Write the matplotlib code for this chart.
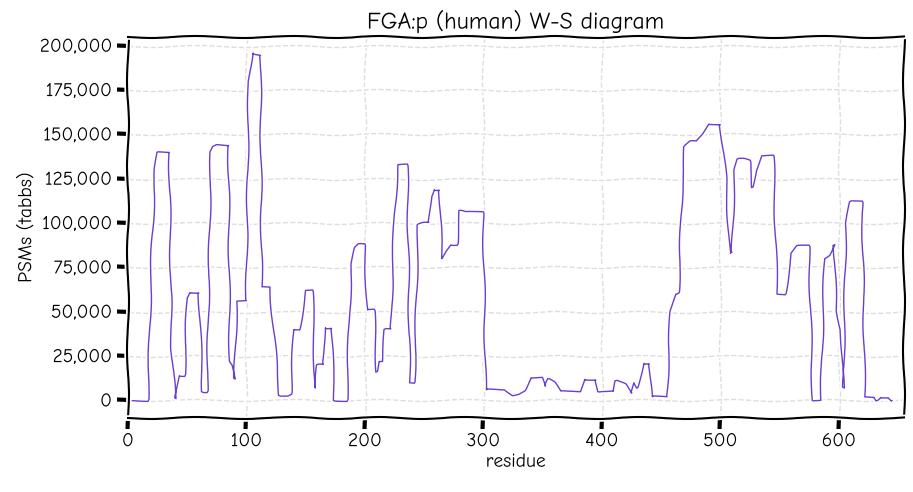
import matplotlib
matplotlib.use("Agg")
import matplotlib.pyplot as plt
from matplotlib.ticker import FuncFormatter

residue = [0,17,20,23,25,35,37,40,43,48,50,52,60,63,67,70,72,75,85,86,88,90,92,100,102,105,112,113,120,123,128,135,138,140,145,150,156,158,160,165,166,172,174,185,187,189,192,195,200,202,208,210,212,215,217,222,225,228,236,238,242,245,250,254,256,258,263,265,268,272,278,280,285,300,302,318,320,325,330,335,340,350,352,355,360,365,382,385,395,397,410,412,420,425,427,430,435,440,442,455,458,462,465,468,470,475,480,485,490,500,505,508,510,512,515,520,525,527,530,535,545,548,555,560,565,575,578,585,588,592,596,598,602,604,606,610,620,622,630,632,635,642,645]
psms = [0,0,80000,130000,140000,140000,29000,1000,14000,14000,58000,61000,61000,5000,5000,140000,143000,144000,144000,22000,20000,12000,56000,56000,180000,196000,195000,64000,64000,40000,3000,3000,4000,40000,40000,62000,62000,7000,20000,20000,41000,41000,0,0,50000,77000,86000,88000,88000,51000,51000,16000,22000,22000,40000,40000,105000,133000,133000,10000,10000,99000,100000,100000,115000,119000,119000,80000,84000,88000,88000,107000,106000,106000,6000,6000,5000,3000,4000,6000,13000,13000,8000,12000,10000,5000,5000,12000,12000,5000,5000,11000,9000,4000,10000,7000,21000,21000,2000,2000,50000,60000,61000,122000,143000,146000,146000,150000,156000,156000,125000,83000,83000,130000,136000,136000,135000,120000,130000,138000,138000,60000,60000,83000,87000,87000,0,0,80000,82000,88000,50000,40000,7000,100000,112000,112000,2000,2000,0,2000,2000,0]

plt.xkcd()
plt.rcParams.update({"font.size": 14})
fig, ax = plt.subplots(figsize=(9.13, 4.92), dpi=100)
ax.plot(residue, psms, color="#6a3ed0", lw=1)
ax.set_title("FGA:p (human) W-S diagram", fontsize=17)
ax.set_xlabel("residue", fontsize=14)
ax.set_ylabel("PSMs (tabbs)", fontsize=14)
ax.tick_params(labelsize=14)
ax.set_xlim(0, 655)
ax.set_ylim(-10000, 205000)
ax.set_yticks(range(0, 200001, 25000))
ax.yaxis.set_major_formatter(FuncFormatter(lambda v, p: f"{int(v):,}"))
ax.grid(True, linestyle="--", color="#dddddd", lw=1)
ax.set_axisbelow(True)
fig.subplots_adjust(left=0.14, right=0.99, top=0.925, bottom=0.15)
fig.savefig("out.png", dpi=100)
